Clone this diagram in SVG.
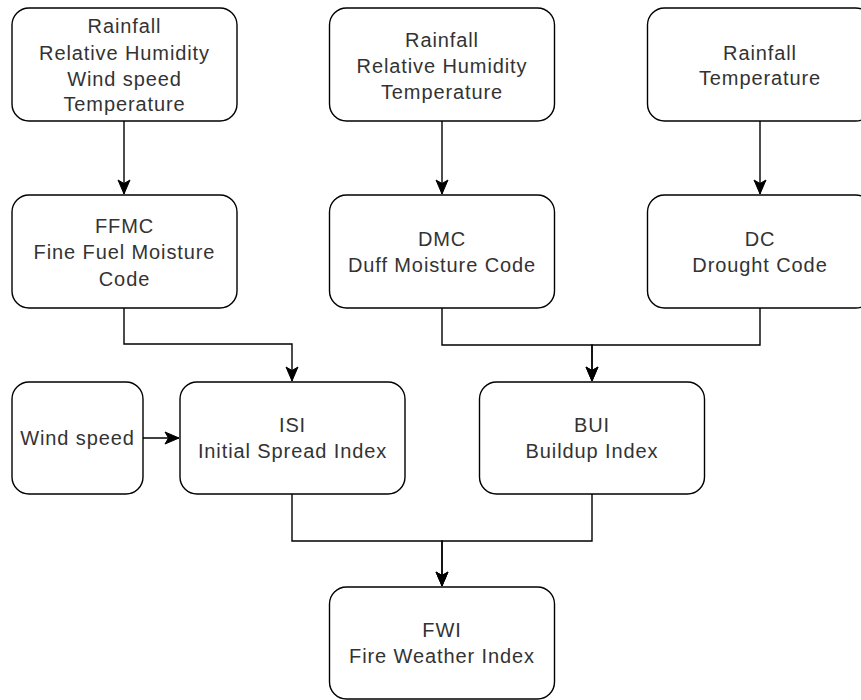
<svg xmlns="http://www.w3.org/2000/svg" width="861" height="700" viewBox="0 0 861 700">
<style>
.box{fill:#fff;stroke:#000;stroke-width:1.4}
.t{font-family:"Liberation Sans",Arial,sans-serif;font-size:20px;fill:#333;text-anchor:middle;letter-spacing:0.9px}
.c{fill:none;stroke:#000;stroke-width:1.4;marker-end:url(#arr)}
</style>
<defs>
<marker id="arr" markerUnits="userSpaceOnUse" markerWidth="16" markerHeight="16" viewBox="-15 -8 16 16" refX="0" refY="0" orient="auto">
<path d="M0,0 L-14,-6 L-10.5,0 L-14,6 Z" fill="#000" stroke="#000" stroke-width="1"/>
</marker>
</defs>
<rect width="861" height="700" fill="#fff"/>
<g id="connectors">
<path class="c" d="M124,121 V194"/>
<path class="c" d="M442,121 V194"/>
<path class="c" d="M760,121 V194"/>
<path class="c" d="M124,308 V344 H292 V381"/>
<path class="c" d="M442,308 V345 H592 V381"/>
<path class="c" d="M760,308 V345 H592 V381"/>
<path class="c" d="M143,438 H179"/>
<path class="c" d="M292,494 V541 H442 V586"/>
<path class="c" d="M592,494 V541 H442 V586"/>
</g>
<g id="in1">
<rect class="box" x="12" y="8" width="225" height="113" rx="17"/>
<text class="t" x="124.5" y="33">Rainfall</text>
<text class="t" x="124.5" y="60">Relative Humidity</text>
<text class="t" x="124.5" y="86">Wind speed</text>
<text class="t" x="124.5" y="111">Temperature</text>
</g>
<g id="in2">
<rect class="box" x="329.5" y="8" width="225" height="113" rx="17"/>
<text class="t" x="442" y="47">Rainfall</text>
<text class="t" x="442" y="73">Relative Humidity</text>
<text class="t" x="442" y="99">Temperature</text>
</g>
<g id="in3">
<rect class="box" x="647.5" y="8" width="225" height="113" rx="17"/>
<text class="t" x="760" y="60">Rainfall</text>
<text class="t" x="760" y="85">Temperature</text>
</g>
<g id="ffmc">
<rect class="box" x="12" y="195" width="225" height="113" rx="17"/>
<text class="t" x="124.5" y="233">FFMC</text>
<text class="t" x="124.5" y="259">Fine Fuel Moisture</text>
<text class="t" x="124.5" y="286">Code</text>
</g>
<g id="dmc">
<rect class="box" x="329.5" y="195" width="225" height="113" rx="17"/>
<text class="t" x="442" y="246">DMC</text>
<text class="t" x="442" y="272">Duff Moisture Code</text>
</g>
<g id="dc">
<rect class="box" x="647.5" y="195" width="225" height="113" rx="17"/>
<text class="t" x="760" y="246">DC</text>
<text class="t" x="760" y="272">Drought Code</text>
</g>
<g id="wind">
<rect class="box" x="12" y="382" width="131" height="112" rx="17"/>
<text class="t" x="77.5" y="445">Wind speed</text>
</g>
<g id="isi">
<rect class="box" x="180" y="382" width="225" height="112" rx="17"/>
<text class="t" x="292.5" y="432">ISI</text>
<text class="t" x="292.5" y="458">Initial Spread Index</text>
</g>
<g id="bui">
<rect class="box" x="479.5" y="382" width="225" height="112" rx="17"/>
<text class="t" x="592" y="432">BUI</text>
<text class="t" x="592" y="458">Buildup Index</text>
</g>
<g id="fwi">
<rect class="box" x="329.5" y="587" width="225" height="112" rx="17"/>
<text class="t" x="442" y="637">FWI</text>
<text class="t" x="442" y="663">Fire Weather Index</text>
</g>
</svg>
